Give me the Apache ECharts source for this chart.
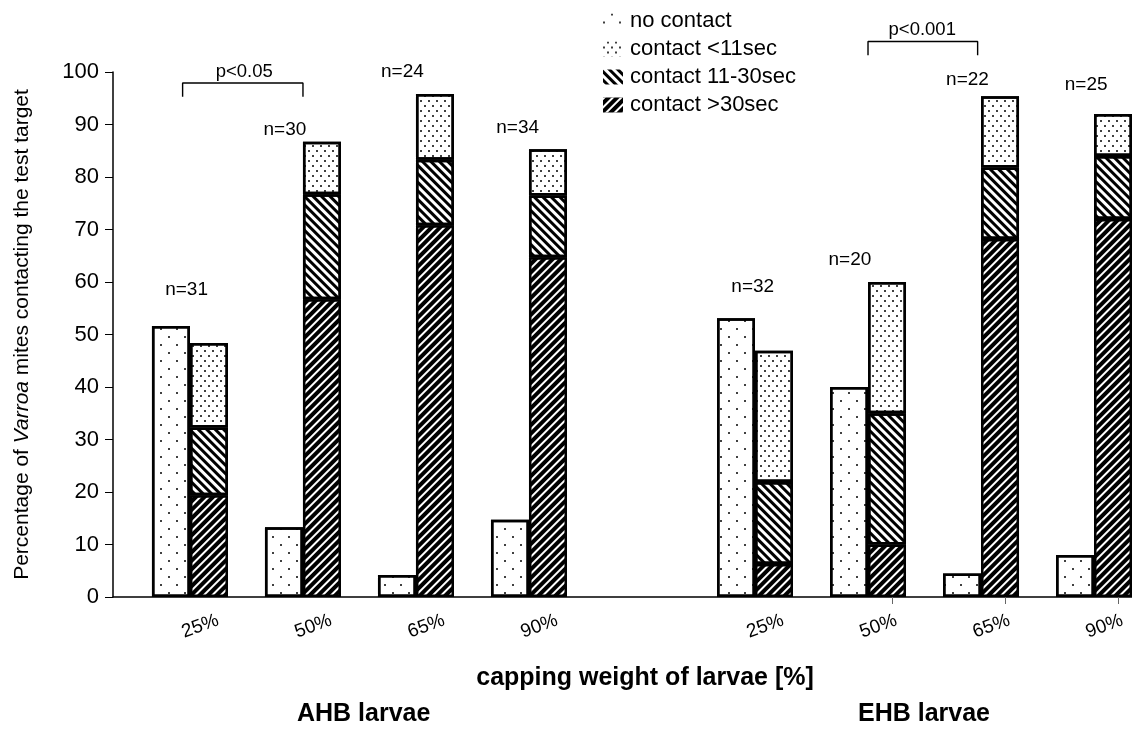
<!DOCTYPE html>
<html>
<head>
<meta charset="utf-8">
<script src="https://cdn.jsdelivr.net/npm/echarts@6/dist/echarts.min.js"></script>
<style>
html,body{margin:0;padding:0;background:#fff;}
#chart{width:1132px;height:729px;}
</style>
</head>
<body>
<div id="chart"></div>
<script>
// ---------------- data ----------------
const capLabels = ['25%', '50%', '65%', '90%'];
const groupNames = ['AHB larvae', 'EHB larvae'];
const seriesNames = ['no contact', 'contact <11sec', 'contact 11-30sec', 'contact >30sec'];
// order: AHB 25,50,65,90 then EHB 25,50,65,90  (percent of mites)
const noContact      = [51.6, 13.3, 4.2, 14.7, 53.1, 40.0, 4.5, 8.0];
const contactUnder11 = [16.1, 10.0, 12.5, 8.8, 25.0, 25.0, 13.6, 8.0];
const contact11to30  = [12.9, 20.0, 12.5, 11.8, 15.6, 25.0, 13.6, 12.0];
const contactOver30  = [19.4, 56.7, 70.8, 64.7, 6.3, 10.0, 68.2, 72.0];
const sampleSizes    = ['n=31', 'n=30', 'n=24', 'n=34', 'n=32', 'n=20', 'n=22', 'n=25'];
const sampleLabelY   = [58.5, 89.0, 100.0, 89.3, 59.1, 64.2, 98.5, 97.5];
const pLabels        = ['p<0.05', 'p<0.001'];
const pFrom          = [0, 5];
const pTo            = [1, 6];
const pBracketY      = [97.9, 105.8];

// ---------------- layout helpers ----------------
const slotOf = i => (i < 4 ? i + 1 : i + 2);   // one empty slot between groups
const labelShift = [-0.03, -0.16, -0.12, -0.10, -0.02, -0.16, -0.12, -0.07];
const FONT = '"Liberation Sans", Arial, Helvetica, sans-serif';

// value first so that stacking happens on the y dimension
const yx = arr => arr.map((v, i) => [v, slotOf(i)]);
const labelValues = [1, 2, 3, 4, 6, 7, 8, 9];
const labelFor = v => {
  const k = Math.round(v);
  const i = labelValues.indexOf(k);
  return i < 0 ? '' : capLabels[i % 4];
};

const barBase = {
  type: 'bar',
  barWidth: 38,
  barGap: '0%',
  encode: { x: 1, y: 0 },
  emphasis: { disabled: true },
  z: 2
};
const border = { borderColor: '#000', borderWidth: 2.5 };

const series = [
  Object.assign({}, barBase, {
    name: seriesNames[0], stack: 'nc', data: yx(noContact),
    itemStyle: Object.assign({ color: '#fff', decal: {
      symbol: 'circle', symbolSize: 1, color: '#000',
      dashArrayX: [[2, 14], [0, 8, 2, 6]], dashArrayY: [2, 6] } }, border)
  }),
  Object.assign({}, barBase, {
    name: seriesNames[3], stack: 'c', data: yx(contactOver30),
    itemStyle: Object.assign({ color: '#000', decal: {
      symbol: 'rect', symbolSize: 1, color: '#fff',
      dashArrayX: [1, 0], dashArrayY: [1.1, 3.4], rotation: -Math.PI / 4 } }, border)
  }),
  Object.assign({}, barBase, {
    name: seriesNames[2], stack: 'c', data: yx(contact11to30),
    itemStyle: Object.assign({ color: '#fff', decal: {
      symbol: 'rect', symbolSize: 1, color: '#000',
      dashArrayX: [1, 0], dashArrayY: [2.2, 2.8], rotation: Math.PI / 4 } }, border)
  }),
  Object.assign({}, barBase, {
    name: seriesNames[1], stack: 'c', data: yx(contactUnder11),
    itemStyle: Object.assign({ color: '#fff', decal: {
      symbol: 'circle', symbolSize: 1, color: '#000',
      dashArrayX: [[2, 6], [0, 4, 2, 2]], dashArrayY: [2, 3] } }, border)
  }),
  {
    type: 'scatter', name: 'n', symbolSize: 1, clip: false, silent: true,
    itemStyle: { color: '#fff', opacity: 1 },
    data: sampleSizes.map((t, i) => [slotOf(i) + labelShift[i], sampleLabelY[i]]),
    label: { show: true, position: 'inside', color: '#000', fontSize: 19, fontFamily: FONT,
      formatter: p => sampleSizes[p.dataIndex] },
    z: 5
  },
  {
    type: 'scatter', name: 'p', symbolSize: 1, clip: false, silent: true,
    itemStyle: { color: '#fff', opacity: 1 },
    data: pLabels.map((t, i) => [(slotOf(pFrom[i]) + slotOf(pTo[i])) / 2 - 0.02, pBracketY[i] + 2.2]),
    label: { show: true, position: 'inside', color: '#000', fontSize: 18.5, fontFamily: FONT,
      formatter: p => pLabels[p.dataIndex] },
    z: 5
  }
];
pLabels.forEach((t, i) => {
  const x1 = slotOf(pFrom[i]) - (i === 0 ? 0.065 : 0.0);
  const x2 = slotOf(pTo[i]) - (i === 0 ? 0.0 : 0.03);
  const yTop = pBracketY[i];
  const yLeg = yTop - 2.6;
  series.push({
    type: 'line', name: 'bracket' + i, clip: false, silent: true, symbol: 'none',
    data: [[x1, yLeg], [x1, yTop], [x2, yTop], [x2, yLeg]],
    lineStyle: { color: '#000', width: 1.4 },
    z: 5
  });
});

const chart = echarts.init(document.getElementById('chart'), null, { renderer: 'canvas' });
chart.setOption({
  animation: false,
  backgroundColor: '#fff',
  textStyle: { fontFamily: FONT, color: '#000' },
  grid: { left: 113, right: 0, top: 72, bottom: 132, containLabel: false },
  legend: {
    data: seriesNames,
    orient: 'vertical',
    left: 598, top: 5,
    icon: 'rect',
    itemWidth: 20, itemHeight: 15, itemGap: 6,
    selectedMode: false,
    itemStyle: { borderWidth: 0 },
    textStyle: { fontSize: 22, color: '#000', fontFamily: FONT, padding: [0, 0, 0, 2] }
  },
  xAxis: {
    type: 'value',
    min: 0.319, max: 9.336,
    splitLine: { show: false },
    axisLine: { show: true, onZero: true, lineStyle: { color: '#000', width: 1.5 } },
    axisTick: { show: true, customValues: [7.212, 8.212, 9.212], length: 7, lineStyle: { color: '#666', width: 1 } },
    axisLabel: {
      customValues: labelValues,
      formatter: labelFor,
      rotate: 20, fontSize: 19, color: '#000', fontFamily: FONT,
      align: 'center', verticalAlign: 'middle',
      padding: [0, 0, 0, 22], margin: 33
    },
    name: 'capping weight of larvae [%]',
    nameLocation: 'middle',
    nameGap: 69,
    nameTextStyle: { fontSize: 25, fontWeight: 'bold', color: '#000', fontFamily: FONT, padding: [0, 0, 0, 45] }
  },
  yAxis: {
    type: 'value',
    min: 0, max: 100, interval: 10,
    splitLine: { show: false },
    axisLine: { show: true, lineStyle: { color: '#000', width: 1.5 } },
    axisTick: { show: true, length: 8, lineStyle: { color: '#000' } },
    axisLabel: { fontSize: 22, color: '#000', margin: 14, fontFamily: FONT },
    name: 'Percentage of {i|Varroa} mites contacting the test target',
    nameLocation: 'middle',
    nameGap: 80,
    nameTextStyle: { fontSize: 21, color: '#000', fontFamily: FONT,
      rich: { i: { fontStyle: 'italic', fontSize: 21, fontFamily: FONT, color: '#000' } } }
  },
  graphic: groupNames.map((g, i) => ({
    type: 'text',
    left: i === 0 ? 297 : 858,
    top: 702,
    style: { text: g, fill: '#000', font: 'bold 25px ' + FONT }
  })),
  series: series
});
</script>
</body>
</html>
